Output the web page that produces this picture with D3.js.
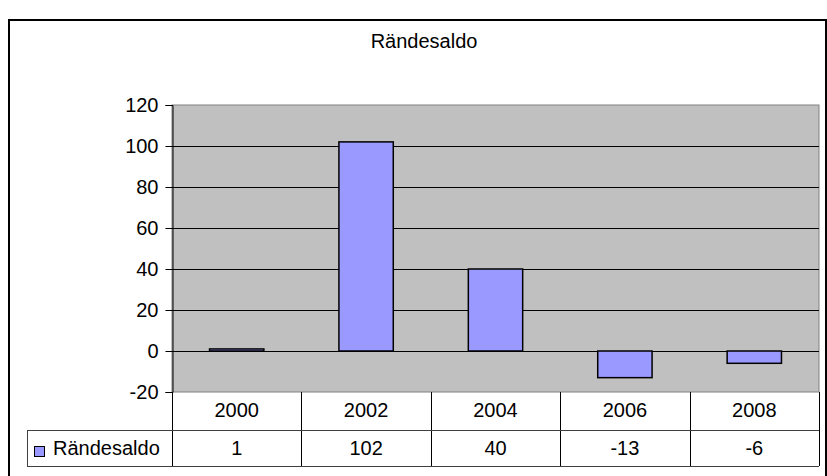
<!DOCTYPE html>
<html>
<head>
<meta charset="utf-8">
<script src="https://cdn.jsdelivr.net/npm/d3@7"></script>
<style>
  body { margin: 0; background: #fff; }
  svg text { font-family: "Liberation Sans", Arial, sans-serif; fill: #000; }
</style>
</head>
<body>
<div id="chart"></div>
<script>
// chart data
const years = ['2000', '2002', '2004', '2006', '2008'];
const values = [1, 102, 40, -13, -6];
const yTicks = [-20, 0, 20, 40, 60, 80, 100, 120];
const seriesName = 'Rändesaldo';
const chartTitle = 'Rändesaldo';

const width = 827;
const height = 476;

const plot = { left: 172, right: 819, top: 105, bottom: 392 };
const table = { left: 27, row1: 430, row2: 466 };

const svg = d3.select('#chart')
  .append('svg')
  .attr('width', width)
  .attr('height', height);

// outer chart frame
svg.append('rect')
  .attr('x', 9).attr('y', 20)
  .attr('width', 817).attr('height', 470)
  .attr('fill', '#fff')
  .attr('stroke', '#000')
  .attr('stroke-width', 2);

// title
svg.append('text')
  .attr('x', 424).attr('y', 48)
  .attr('text-anchor', 'middle')
  .style('font-size', '20px')
  .text(chartTitle);

const xScale = d3.scaleBand()
  .domain(years)
  .range([plot.left, plot.right])
  .paddingInner(0.58)
  .paddingOuter(0.29);

const yScale = d3.scaleLinear()
  .domain([-20, 120])
  .range([plot.bottom, plot.top]);

// plot background
svg.append('rect')
  .attr('x', plot.left).attr('y', plot.top)
  .attr('width', plot.right - plot.left)
  .attr('height', plot.bottom - plot.top)
  .attr('fill', '#c0c0c0')
  .attr('stroke', '#808080')
  .attr('stroke-width', 1);

// gridlines
svg.append('g')
  .selectAll('line')
  .data(yTicks.filter(d => d > -20 && d < 120))
  .join('line')
  .attr('x1', plot.left).attr('x2', plot.right)
  .attr('y1', d => Math.round(yScale(d)) + 0.5)
  .attr('y2', d => Math.round(yScale(d)) + 0.5)
  .attr('stroke', '#000')
  .attr('stroke-width', 1);

// bars
svg.append('g')
  .selectAll('rect')
  .data(values)
  .join('rect')
  .attr('x', (d, i) => xScale(years[i]))
  .attr('y', d => yScale(Math.max(d, 0)))
  .attr('width', xScale.bandwidth())
  .attr('height', d => Math.abs(yScale(d) - yScale(0)))
  .attr('fill', '#9999ff')
  .attr('stroke', '#000')
  .attr('stroke-width', 1.5);

// y axis (plain hyphen for negatives, like Excel)
const yAxis = d3.axisLeft(yScale)
  .tickValues(yTicks)
  .tickFormat(d => String(d))
  .tickSize(7)
  .tickPadding(7);

const yAxisG = svg.append('g')
  .attr('transform', `translate(${plot.left + 0.5}, 0)`)
  .call(yAxis);
yAxisG.select('.domain').attr('stroke', '#000');
yAxisG.selectAll('.tick line').attr('stroke', '#000');
yAxisG.selectAll('.tick text')
  .style('font-size', '20px')
  .attr('fill', '#000');

// data table grid
const grid = svg.append('g').attr('stroke', '#404040').attr('stroke-width', 1);

// column boundaries, one per band step
const colEdges = d3.range(years.length + 1).map(i => plot.left + i * xScale.step());

grid.selectAll('line.col')
  .data(colEdges)
  .join('line')
  .attr('class', 'col')
  .attr('x1', d => Math.round(d) + 0.5).attr('x2', d => Math.round(d) + 0.5)
  .attr('y1', plot.bottom).attr('y2', table.row2)
  .attr('stroke', '#000');

grid.append('line')
  .attr('x1', table.left).attr('x2', plot.right)
  .attr('y1', table.row1 + 0.5).attr('y2', table.row1 + 0.5);
grid.append('line')
  .attr('x1', table.left).attr('x2', plot.right)
  .attr('y1', table.row2 + 0.5).attr('y2', table.row2 + 0.5);
grid.append('line')
  .attr('x1', table.left + 0.5).attr('x2', table.left + 0.5)
  .attr('y1', table.row1).attr('y2', table.row2);

// category labels
svg.append('g')
  .selectAll('text')
  .data(years)
  .join('text')
  .attr('x', d => xScale(d) + xScale.bandwidth() / 2)
  .attr('y', 417)
  .attr('text-anchor', 'middle')
  .style('font-size', '20px')
  .text(d => d);

// values row
svg.append('g')
  .selectAll('text')
  .data(values)
  .join('text')
  .attr('x', (d, i) => xScale(years[i]) + xScale.bandwidth() / 2)
  .attr('y', 455)
  .attr('text-anchor', 'middle')
  .style('font-size', '20px')
  .text(d => d);

// legend key in table
svg.append('rect')
  .attr('x', 34.5).attr('y', 446.5)
  .attr('width', 10).attr('height', 10)
  .attr('fill', '#9999ff')
  .attr('stroke', '#000')
  .attr('stroke-width', 1);

svg.append('text')
  .attr('x', 53).attr('y', 455)
  .style('font-size', '20px')
  .text(seriesName);
</script>
</body>
</html>
